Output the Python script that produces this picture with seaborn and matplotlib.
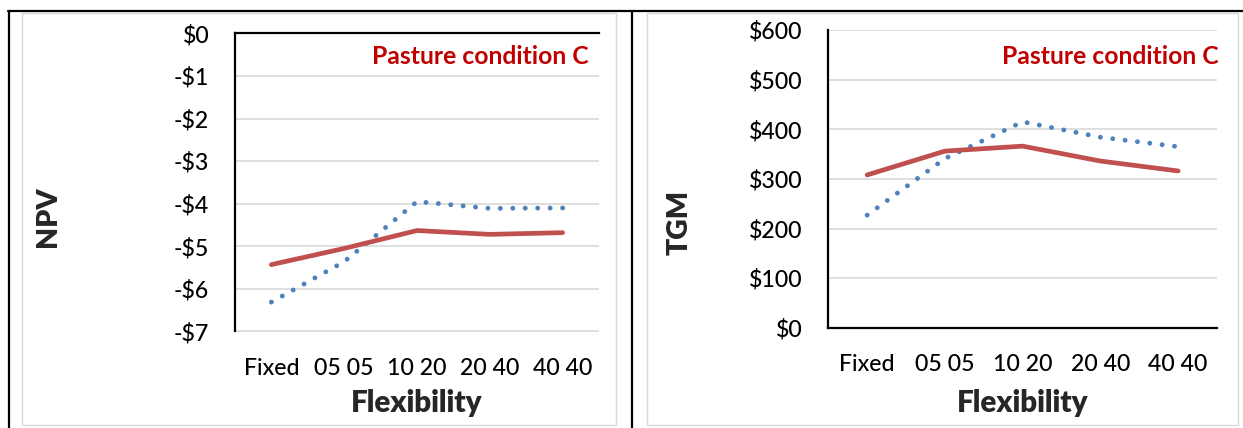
import matplotlib
matplotlib.use("Agg")
import matplotlib.pyplot as plt
import seaborn as sns
from matplotlib.lines import Line2D
from matplotlib.patches import Rectangle

# ---------------- data ----------------
categories = ["Fixed", "05 05", "10 20", "20 40", "40 40"]
npv_solid = [-5.43, -5.05, -4.63, -4.72, -4.68]
npv_dotted = [-6.31, -5.36, -3.95, -4.11, -4.10]
tgm_solid = [308, 356, 366, 336, 316]
tgm_dotted = [227, 341, 415, 384, 365]

npv_ticks = [0, -1, -2, -3, -4, -5, -6, -7]
npv_ticklabels = ["$0", "-$1", "-$2", "-$3", "-$4", "-$5", "-$6", "-$7"]
tgm_ticks = [0, 100, 200, 300, 400, 500, 600]
tgm_ticklabels = ["$0", "$100", "$200", "$300", "$400", "$500", "$600"]

note_text = "Pasture condition C"
x_title = "Flexibility"
npv_title = "NPV"
tgm_title = "TGM"

# ---------------- style ----------------
sns.set_style("white")
plt.rcParams["font.family"] = ["Lato", "DejaVu Sans"]

RED = "#C0504D"
BLUE = "#4F81BD"
NOTE = "#C00000"
GRID = "#D9D9D9"

W, H = 1243, 428
fig = plt.figure(figsize=(W / 100, H / 100), dpi=100)


def fx(px):
    return px / W


def fy(py):
    return 1 - py / H


# table borders and chart-area boxes (decoration)
fig.add_artist(Line2D([fx(8), fx(1243)], [fy(11), fy(11)], color="black", lw=1.6))
fig.add_artist(Line2D([fx(8.5), fx(8.5)], [fy(11), fy(428)], color="black", lw=1.6))
fig.add_artist(Line2D([fx(632), fx(632)], [fy(11), fy(428)], color="black", lw=1.6))
fig.add_artist(Rectangle((fx(22), fy(425)), fx(616 - 22), (425 - 13) / H,
                         fill=False, edgecolor=GRID, lw=1.0))
fig.add_artist(Rectangle((fx(646.5), fy(425)), fx(1238 - 646.5), (425 - 13) / H,
                         fill=False, edgecolor=GRID, lw=1.0))

TICK_FS = 16.7
LABEL_FS = 21.3
YLAB_FS = 20.5
NOTE_FS = 17.8


def make_panel(rect, solid, dotted, ticks, ticklabels, ylims, top_axis,
               ylab, ylab_xy, note_xy, xlab_y):
    ax = fig.add_axes(rect)
    sns.lineplot(x=categories, y=dotted, ax=ax, color=BLUE, lw=3.5,
                 linestyle=(0, (0.01, 2.55)), dash_capstyle="round",
                 sort=False, legend=False)
    sns.lineplot(x=categories, y=solid, ax=ax, color=RED, lw=3.4,
                 solid_capstyle="round", solid_joinstyle="round",
                 sort=False, legend=False)
    ax.set_xlim(-0.5, len(categories) - 0.5)
    ax.set_ylim(*ylims)
    ax.set_yticks(ticks)
    ax.set_yticklabels(ticklabels, fontweight="medium")
    ax.set_xticks(range(len(categories)))
    ax.set_xticklabels(categories, fontweight="medium")
    ax.yaxis.grid(True, color=GRID, lw=1.2)
    ax.xaxis.grid(False)
    ax.set_axisbelow(True)
    for s in ax.spines.values():
        s.set_visible(False)
    ax.spines["left"].set_visible(True)
    ax.spines["left"].set_color("black")
    ax.spines["left"].set_linewidth(1.6)
    sp = ax.spines["top"] if top_axis else ax.spines["bottom"]
    sp.set_visible(True)
    sp.set_color("black")
    sp.set_linewidth(1.6)
    ax.tick_params(axis="y", length=0, pad=18.5, labelsize=TICK_FS, colors="black")
    ax.tick_params(axis="x", length=0, pad=19, labelsize=TICK_FS, colors="black")
    ax.set_ylabel(ylab, fontsize=YLAB_FS, fontweight="heavy")
    ax.yaxis.label.set_va("center")
    ax.yaxis.set_label_coords(*ylab_xy)
    ax.set_xlabel(x_title, fontsize=LABEL_FS, fontweight="heavy")
    ax.xaxis.label.set_va("center")
    ax.xaxis.set_label_coords(0.5, xlab_y)
    ax.text(note_xy[0], note_xy[1], note_text, transform=ax.transAxes, ha="right",
            va="center", color=NOTE, fontsize=NOTE_FS, fontweight="bold")
    return ax


# left panel: axes 235..599 px, 33.3..331.5 px
lx0, lx1, ly0, ly1 = 235, 599, 33.3, 331.5
make_panel([fx(lx0), fy(ly1), fx(lx1 - lx0), (ly1 - ly0) / H],
           npv_solid, npv_dotted, npv_ticks, npv_ticklabels, (-7, 0), True,
           npv_title, ((48 - lx0) / (lx1 - lx0), (ly1 - 217) / (ly1 - ly0)),
           ((589 - lx0) / (lx1 - lx0), (ly1 - 56) / (ly1 - ly0)),
           (ly1 - 403) / (ly1 - ly0))

# right panel: axes 828.3..1217 px, 30..327.8 px
rx0, rx1, ry0, ry1 = 828.3, 1217, 30, 327.8
make_panel([fx(rx0), fy(ry1), fx(rx1 - rx0), (ry1 - ry0) / H],
           tgm_solid, tgm_dotted, tgm_ticks, tgm_ticklabels, (0, 600), False,
           tgm_title, ((679.5 - rx0) / (rx1 - rx0), (ry1 - 222.5) / (ry1 - ry0)),
           ((1219 - rx0) / (rx1 - rx0), (ry1 - 56) / (ry1 - ry0)),
           (ry1 - 403) / (ry1 - ry0))

fig.savefig("out.png", dpi=100)
